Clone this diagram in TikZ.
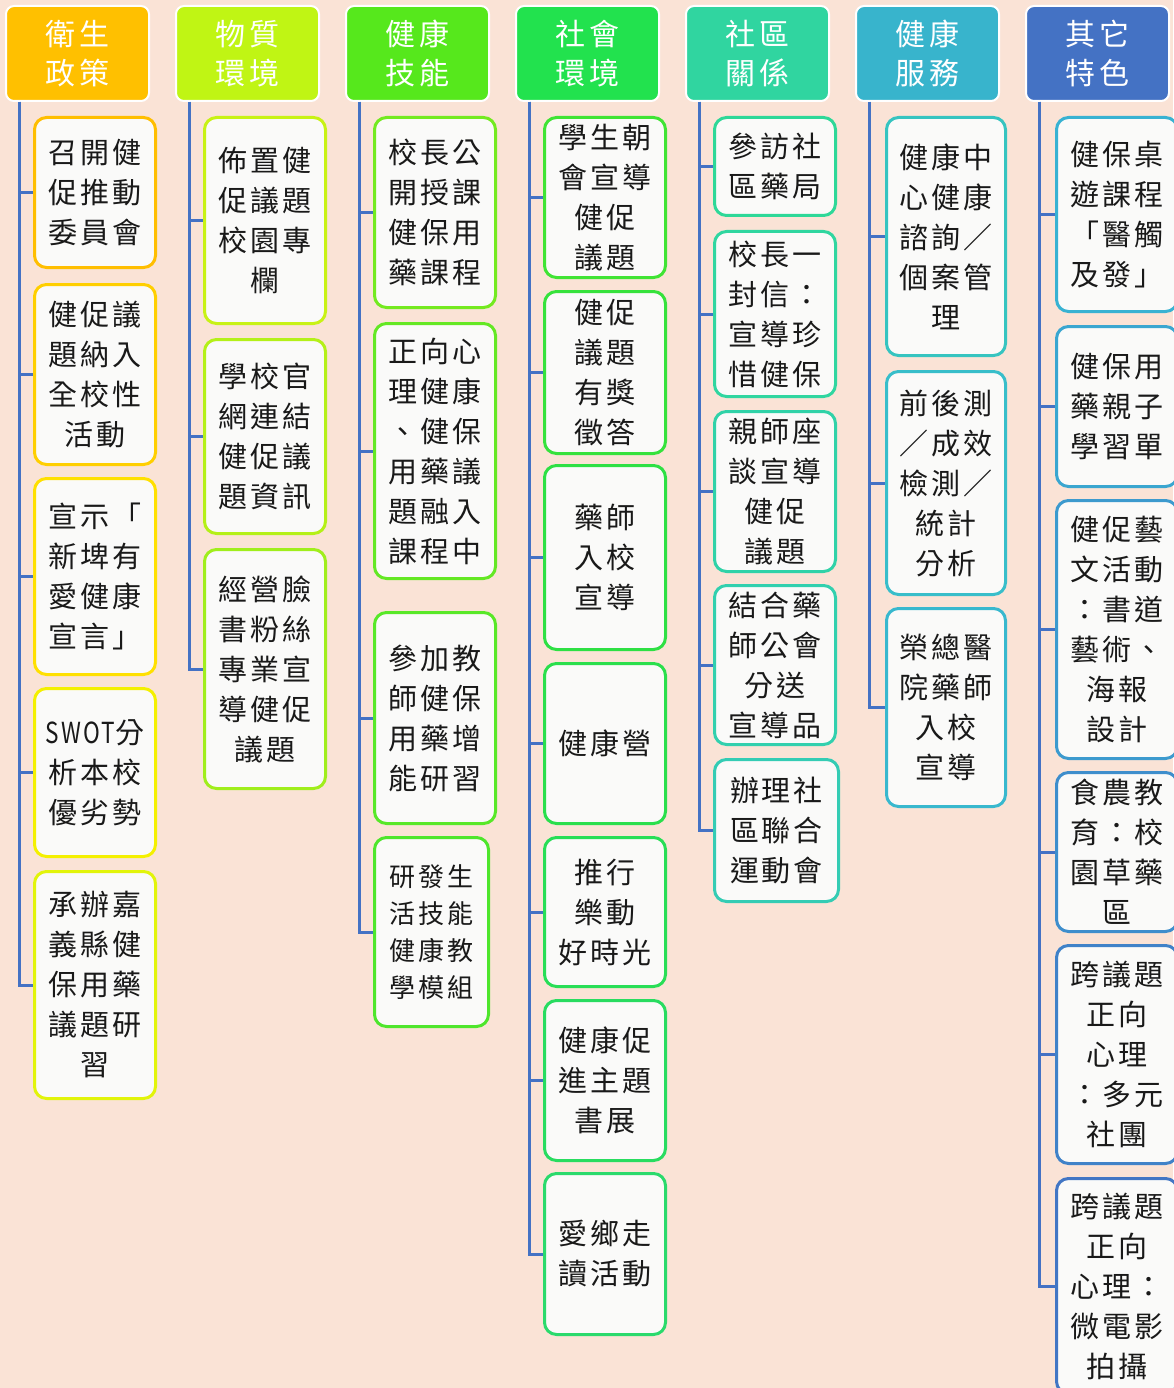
\documentclass[tikz,border=0pt]{standalone}
\usepackage{fontspec}
\usepackage{xcolor}
\usepackage{tikz}
\usetikzlibrary{positioning}
\newfontfamily\itemfont[LetterSpace=10]{Noto Sans CJK TC}
\newfontfamily\headfont[LetterSpace=12]{Noto Sans CJK TC}

% page and trunk colours
\definecolor{pagepeach}{HTML}{FAE3D6}
\definecolor{itemwhite}{HTML}{FAFAF9}
\definecolor{trunkblue}{HTML}{4472C4}
% header colours
\definecolor{hdA}{HTML}{FFC000}
\definecolor{hdB}{HTML}{C0F514}
\definecolor{hdC}{HTML}{56E81C}
\definecolor{hdD}{HTML}{22E24E}
\definecolor{hdE}{HTML}{30D5A0}
\definecolor{hdF}{HTML}{38B4CC}
\definecolor{hdG}{HTML}{4472C4}

\begin{document}
\begin{tikzpicture}[
    x=1pt, y=-1pt,
    % Column headers
    header/.style={rectangle, rounded corners=8pt, draw=white, line width=2pt, minimum width=143pt, minimum height=95pt, anchor=north west, align=center, text=white, inner sep=0pt, font=\headfont\fontsize{30}{39}\selectfont},
    % Items under a header
    item/.style={rectangle, rounded corners=12pt, line width=3pt, fill=itemwhite, minimum width=121pt, anchor=north west, align=center, text=black!90, inner sep=0pt, font=\itemfont\fontsize{29}{40}\selectfont},
    % Connectors
    trunk/.style={draw=trunkblue, line width=3pt}
]
    % Page
    \fill[pagepeach] (0, 0) rectangle (1173, 1388);
    \useasboundingbox (0, 0) rectangle (1173, 1388);

    % Headers
    \node[header, fill=hdA] (h1) at (5, 5) {衛生\\政策};
    \node[header, fill=hdB] (h2) at (175, 5) {物質\\環境};
    \node[header, fill=hdC] (h3) at (345, 5) {健康\\技能};
    \node[header, fill=hdD] (h4) at (515, 5) {社會\\環境};
    \node[header, fill=hdE] (h5) at (685, 5) {社區\\關係};
    \node[header, fill=hdF] (h6) at (855, 5) {健康\\服務};
    \node[header, fill=hdG] (h7) at (1025, 5) {其它\\特色};

    % Column 1
    \node[item, draw={rgb,255:red,255;green,190;blue,0}, minimum height=150] (a1) at (33, 116) {召開健\\促推動\\委員會};
    \node[item, draw={rgb,255:red,255;green,207;blue,0}, minimum height=180] (a2) at (33, 283) {健促議\\題納入\\全校性\\活動};
    \node[item, draw={rgb,255:red,255;green,224;blue,0}, minimum height=196] (a3) at (33, 477) {宣示「\\新埤有\\愛健康\\宣言」};
    \node[item, draw={rgb,255:red,244;green,240;blue,0}, minimum height=168] (a4) at (33, 687) {\scalebox{0.78}[1]{SWOT}分\\析本校\\優劣勢};
    \node[item, draw={rgb,255:red,226;green,244;blue,10}, minimum height=227] (a5) at (33, 870) {承辦嘉\\義縣健\\保用藥\\議題研\\習};

    % Column 2
    \node[item, draw={rgb,255:red,200;green,242;blue,20}, minimum height=206] (b1) at (203, 116) {佈置健\\促議題\\校園專\\欄};
    \node[item, draw={rgb,255:red,180;green,240;blue,24}, minimum height=194] (b2) at (203, 338) {學校官\\網連結\\健促議\\題資訊};
    \node[item, draw={rgb,255:red,160;green,238;blue,28}, minimum height=239] (b3) at (203, 548) {經營臉\\書粉絲\\專業宣\\導健促\\議題};

    % Column 3
    \node[item, draw={rgb,255:red,116;green,234;blue,32}, minimum height=190] (c1) at (373, 116) {校長公\\開授課\\健保用\\藥課程};
    \node[item, draw={rgb,255:red,100;green,232;blue,36}, minimum height=255] (c2) at (373, 322) {正向心\\理健康\\、健保\\用藥議\\題融入\\課程中};
    \node[item, draw={rgb,255:red,88;green,232;blue,40}, minimum height=211] (c3) at (373, 611) {參加教\\師健保\\用藥增\\能研習};
    \node[item, draw={rgb,255:red,78;green,230;blue,44}, minimum width=114, minimum height=189, font=\itemfont\fontsize{26}{37}\selectfont] (c4) at (373, 836) {研發生\\活技能\\健康教\\學模組};

    % Column 4
    \node[item, draw={rgb,255:red,64;green,228;blue,52}, minimum height=160] (d1) at (543, 116) {學生朝\\會宣導\\健促\\議題};
    \node[item, draw={rgb,255:red,54;green,226;blue,60}, minimum height=162] (d2) at (543, 290) {健促\\議題\\有獎\\徵答};
    \node[item, draw={rgb,255:red,46;green,224;blue,68}, minimum height=184] (d3) at (543, 464) {藥師\\入校\\宣導};
    \node[item, draw={rgb,255:red,42;green,223;blue,76}, minimum height=160] (d4) at (543, 662) {健康營};
    \node[item, draw={rgb,255:red,40;green,222;blue,86}, minimum height=149] (d5) at (543, 836) {推行\\樂動\\好時光};
    \node[item, draw={rgb,255:red,40;green,220;blue,96}, minimum height=160] (d6) at (543, 999) {健康促\\進主題\\書展};
    \node[item, draw={rgb,255:red,42;green,218;blue,108}, minimum height=161] (d7) at (543, 1172) {愛鄉走\\讀活動};

    % Column 5
    \node[item, draw={rgb,255:red,46;green,216;blue,152}, minimum height=98] (e1) at (713, 116) {參訪社\\區藥局};
    \node[item, draw={rgb,255:red,48;green,214;blue,160}, minimum height=165] (e2) at (713, 230) {校長一\\封信：\\宣導珍\\惜健保};
    \node[item, draw={rgb,255:red,48;green,210;blue,168}, minimum height=160] (e3) at (713, 410) {親師座\\談宣導\\健促\\議題};
    \node[item, draw={rgb,255:red,50;green,208;blue,174}, minimum height=159] (e4) at (713, 584) {結合藥\\師公會\\分送\\宣導品};
    \node[item, draw={rgb,255:red,52;green,204;blue,180}, minimum width=124, minimum height=142] (e5) at (713, 758) {辦理社\\區聯合\\運動會};

    % Column 6
    \node[item, draw={rgb,255:red,54;green,196;blue,192}, minimum width=119, minimum height=238] (f1) at (885, 116) {健康中\\心健康\\諮詢／\\個案管\\理};
    \node[item, draw={rgb,255:red,56;green,190;blue,202}, minimum width=119, minimum height=223] (f2) at (885, 370) {前後測\\／成效\\檢測／\\統計\\分析};
    \node[item, draw={rgb,255:red,56;green,184;blue,206}, minimum width=119, minimum height=198] (f3) at (885, 607) {榮總醫\\院藥師\\入校\\宣導};

    % Column 7
    \node[item, draw={rgb,255:red,56;green,178;blue,210}, minimum height=194] (g1) at (1055, 116) {健保桌\\遊課程\\「醫觸\\及發」};
    \node[item, draw={rgb,255:red,58;green,166;blue,208}, minimum height=160] (g2) at (1055, 325) {健保用\\藥親子\\學習單};
    \node[item, draw={rgb,255:red,60;green,154;blue,206}, minimum height=258] (g3) at (1055, 499) {健促藝\\文活動\\：書道\\藝術、\\海報\\設計};
    \node[item, draw={rgb,255:red,62;green,142;blue,204}, minimum height=159] (g4) at (1055, 771) {食農教\\育：校\\園草藥\\區};
    \node[item, draw={rgb,255:red,64;green,130;blue,200}, minimum height=218] (g5) at (1055, 944) {跨議題\\正向\\心理\\：多元\\社團};
    \node[item, draw={rgb,255:red,66;green,118;blue,196}, minimum height=215] (g6) at (1055, 1177) {跨議題\\正向\\心理：\\微電影\\拍攝};

    % Connectors
    \foreach \n in {a1, a2, a3, a4, a5}
        \draw[trunk] ([xshift=14pt]h1.south west) |- (\n.west);
    \foreach \n in {b1, b2, b3}
        \draw[trunk] ([xshift=14pt]h2.south west) |- (\n.west);
    \foreach \n in {c1, c2, c3, c4}
        \draw[trunk] ([xshift=14pt]h3.south west) |- (\n.west);
    \foreach \n in {d1, d2, d3, d4, d5, d6, d7}
        \draw[trunk] ([xshift=14pt]h4.south west) |- (\n.west);
    \foreach \n in {e1, e2, e3, e4, e5}
        \draw[trunk] ([xshift=14pt]h5.south west) |- (\n.west);
    \foreach \n in {f1, f2, f3}
        \draw[trunk] ([xshift=14pt]h6.south west) |- (\n.west);
    \foreach \n in {g1, g2, g3, g4, g5, g6}
        \draw[trunk] ([xshift=14pt]h7.south west) |- (\n.west);
\end{tikzpicture}
\end{document}
